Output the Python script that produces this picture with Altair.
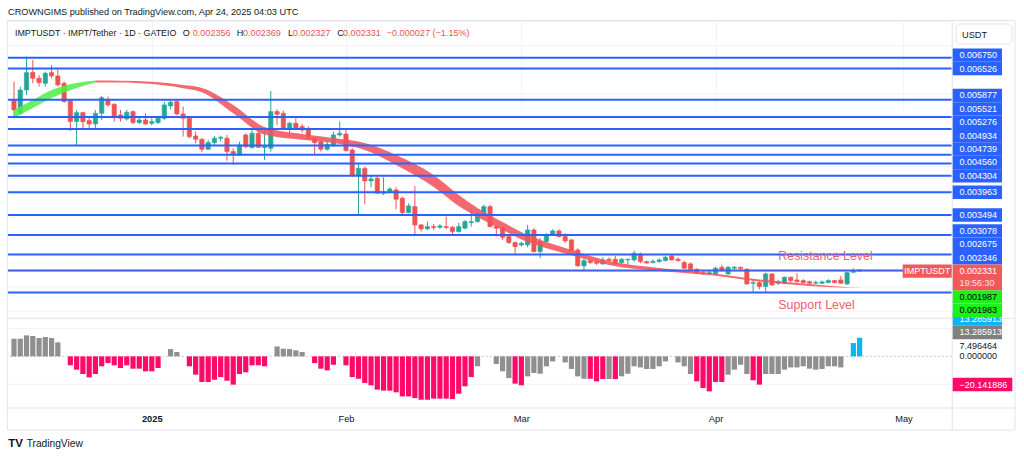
import altair as alt
import pandas as pd

# ---------------------------------------------------------------------------
# IMPT/USDT daily candles on GATEIO, 10 Dec 2024 .. 24 Apr 2025
# prices are in millionths of a USDT
# ---------------------------------------------------------------------------
FIRST_DAY = "2024-12-10"

opens = [
    5875, 5599, 6082, 6441, 6324, 6220, 6441, 6372, 6220, 5861,
    5427, 5613, 5447, 5378, 5599, 5889, 5785, 5565, 5482, 5634,
    5406, 5461, 5392, 5406, 5496, 5751, 5841, 5585, 5496, 5130,
    5061, 4854, 4992, 5082, 5082, 4806, 4737, 5151, 4888, 5185,
    4888, 4875, 5634, 5599, 5268, 5392, 5323, 5289, 5082, 5013,
    4854, 4923, 5151, 5171, 4840, 4302, 4460, 4198, 4254, 3943,
    3978, 4012, 3840, 3543, 3667, 3288, 3205, 3253, 3239, 3253,
    3239, 3150, 3219, 3336, 3357, 3495, 3667, 3253, 3219, 3046,
    2922, 2873, 2873, 3184, 2736, 2942, 3081, 3163, 3046, 2977,
    2770, 2439, 2549, 2529, 2480, 2577, 2577, 2508, 2563, 2563,
    2687, 2529, 2508, 2529, 2549, 2646, 2577, 2508, 2480, 2370,
    2301, 2273, 2273, 2411, 2273, 2391, 2411, 2370, 2080, 2094,
    2011, 2273, 2080, 2080, 2204, 2149, 2135, 2114, 2080, 2080,
    2094, 2135, 2149, 2066, 2308, 2356,
]
highs = [
    6255, 6151, 6772, 6703, 6393, 6462, 6600, 6496, 6255, 5875,
    5668, 5634, 5530, 5668, 5958, 5944, 5806, 5668, 5668, 5654,
    5530, 5599, 5496, 5530, 5841, 5861, 5875, 5737, 5496, 5220,
    5082, 5047, 5130, 5137, 5151, 4875, 5013, 5185, 5289, 5254,
    5254, 6061, 5682, 5654, 5427, 5496, 5378, 5323, 5116, 5033,
    5013, 5220, 5427, 5254, 4875, 4564, 4495, 4323, 4323, 4274,
    4067, 4067, 3874, 3736, 4095, 3308, 3357, 3308, 3308, 3460,
    3267, 3336, 3391, 3633, 3564, 3702, 3702, 3267, 3253, 3081,
    2942, 2942, 3288, 3219, 3012, 3115, 3198, 3198, 3115, 2991,
    2804, 2598, 2577, 2577, 2618, 2618, 2646, 2598, 2591, 2756,
    2715, 2549, 2577, 2598, 2646, 2666, 2618, 2549, 2508, 2391,
    2342, 2342, 2425, 2460, 2439, 2439, 2425, 2391, 2163, 2135,
    2301, 2287, 2149, 2218, 2218, 2287, 2163, 2135, 2135, 2135,
    2163, 2149, 2232, 2321, 2391, 2369,
]
lows = [
    5496, 5565, 5979, 6220, 6151, 6151, 6324, 6151, 5820, 5233,
    4923, 5289, 5289, 5289, 5461, 5737, 5427, 5427, 5447, 5378,
    5378, 5364, 5351, 5378, 5461, 5682, 5558, 5116, 5082, 4978,
    4792, 4840, 4944, 5013, 4619, 4530, 4716, 4875, 4875, 4875,
    4633, 4806, 5358, 5254, 5116, 5254, 5199, 5061, 4757, 4806,
    4826, 4909, 5116, 4806, 4288, 3495, 3722, 4067, 3929, 3909,
    3943, 3612, 3495, 3529, 3081, 3150, 3184, 3184, 3205, 3205,
    3060, 3129, 3198, 3253, 3336, 3474, 3239, 3046, 2977, 2894,
    2666, 2839, 2825, 2715, 2598, 2922, 3060, 3025, 2922, 2736,
    2425, 2342, 2480, 2460, 2460, 2529, 2460, 2480, 2460, 2529,
    2494, 2480, 2494, 2508, 2529, 2549, 2529, 2370, 2356, 2266,
    2252, 2246, 2252, 2321, 2252, 2356, 2356, 2045, 1887, 1956,
    1907, 2025, 2045, 2059, 2094, 2080, 2066, 2066, 2066, 2066,
    2080, 2080, 2066, 2045, 2287, 2327,
]
closes = [
    5668, 6082, 6441, 6324, 6234, 6427, 6372, 6186, 5841, 5427,
    5613, 5427, 5378, 5599, 5923, 5772, 5509, 5496, 5620, 5406,
    5461, 5378, 5427, 5496, 5772, 5827, 5585, 5496, 5116, 5061,
    4854, 4992, 5082, 5102, 4806, 4737, 4944, 4909, 5185, 4895,
    4909, 5634, 5578, 5289, 5392, 5289, 5254, 5082, 4992, 4854,
    4957, 5151, 5185, 4826, 4302, 4460, 4198, 4240, 3943, 3978,
    4033, 3819, 3543, 3681, 3288, 3205, 3253, 3232, 3267, 3232,
    3150, 3253, 3357, 3357, 3529, 3667, 3253, 3219, 3032, 2922,
    2839, 2908, 3184, 2736, 2942, 3081, 3163, 3046, 2956, 2749,
    2439, 2549, 2508, 2494, 2563, 2549, 2480, 2577, 2577, 2701,
    2529, 2501, 2535, 2563, 2618, 2563, 2549, 2391, 2370, 2287,
    2273, 2301, 2391, 2342, 2411, 2411, 2384, 2066, 2094, 2011,
    2273, 2045, 2114, 2204, 2135, 2114, 2094, 2080, 2094, 2107,
    2135, 2094, 2080, 2301, 2342, 2331,
]

# moving-average ribbon, sampled on candle numbers (1 = first day)
band_day = [1, 4, 7, 11, 14, 18, 23, 28, 31, 36, 41, 47, 52, 57, 62,
            68, 72, 75, 79, 83, 87, 91, 96, 104, 112, 120, 128, 134, 136]
band_hi = [5667, 5874, 6081, 6226, 6278, 6274, 6253, 6185, 6123, 5771,
           5315, 5170, 5087, 4984, 4736, 4321, 3907, 3638, 3348, 3079,
           2893, 2727, 2541, 2396, 2292, 2158, 2064, 1995, 1987]
band_lo = [5501, 5708, 5916, 6123, 6234, 6238, 6205, 6118, 6035, 5600,
           5160, 5050, 4984, 4839, 4528, 4073, 3680, 3452, 3183, 2934,
           2768, 2624, 2458, 2334, 2251, 2116, 2023, 1985, 1983]
band_trend = ["up"] * 4 + ["down"] * 23 + ["up"] * 2

# horizontal levels drawn on the chart
levels = [6750, 6526, 5877, 5521, 5276, 4934, 4739, 4560, 4304,
          3963, 3494, 3078, 2675, 2346]
support_line = 1887
ma_last = [1987, 1983]

# lower pane: momentum histogram and the tone of every bar
hist = [
    12.6, 12.6, 15.0, 14.5, 13.1, 13.8, 13.1, 10.0, 0,
    -6.4, -9.5, -12.6, -15.0, -12.6, -7.1, -4.8, -6.4, -8.3, -6.4,
    -8.8, -8.8, -10.7, -10.7, -8.3,
    0, 5.2, 3.1, 0,
    -7.1, -13.1, -18.3, -18.3, -16.7, -14.8, -17.4, -20.2, -12.6, -11.4,
    -6.4, -6.4, -7.1,
    0, 7.1, 5.5, 5.2, 4.3, 3.1, 0,
    -4.8, -8.8, -10.0, -6.0,
    0,
    -6.4, -14.8, -16.0, -19.0, -20.7, -23.8, -24.5, -24.5, -25.7, -28.6,
    -28.6, -29.8, -31.0, -31.0, -30.2, -30.2, -30.2, -30.5, -26.7, -21.4,
    -14.8,
    -7.1, 0, 0, -5.5, -10.7, -15.5,
    -19.5, -20.7,
    -14.3, -11.9, -12.4, -7.1, -3.6, 0, -4.3, -9.0, -14.3, -16.0,
    -16.0, -17.9, -16.2,
    -16.2,
    -16.2,
    -14.3, -12.4, -7.1, -7.9, -9.0, -9.0, -7.1, -3.6, 0, -4.3, -7.1, -12.6,
    -17.9, -22.6, -25.0, -18.3, -18.3,
    -13.1, -9.5, -6.0, -12.6,
    -17.1, -20.2,
    -12.6, -12.6, -12.6, -9.5, -7.9, -7.9, -7.1, -8.8, -9.5, -9.0, -7.1,
    -7.1, -7.9, 0,
    9.5, 13.285913,
]
hist_tone_runs = [("g", 9), ("p", 15), ("g", 4), ("p", 13), ("g", 7), ("p", 4),
                  ("g", 1), ("p", 21), ("g", 6), ("p", 2), ("g", 10), ("p", 3),
                  ("g", 1), ("p", 1), ("g", 12), ("p", 5), ("g", 4), ("p", 2),
                  ("g", 14), ("b", 2)]
signal_value = 13.285913
other_value = 7.496464
lower_value = -20.141886

# ---------------------------------------------------------------------------
# styling and geometry
# ---------------------------------------------------------------------------
FONT = "Liberation Sans"
INK = "#131722"
UP, DOWN = "#26a69a", "#ef5350"
LEVEL_BLUE = "#2962ff"
BORDER = "#e0e3eb"
GRID = "#f0f3fa"
RIBBON = {"up": "#52ee4a", "down": "#f2545c"}
HIST_COL = {"g": "#8f8f8f", "p": "#ff0a68", "b": "#0ab4f5"}
LABEL_RED = "#f05a5a"
TEXT_RED = "#f0606c"

W, H = 943.5, 388.0          # plot area (both panes)
PRICE_H = 298.3              # the price pane occupies the top of it
PRICE_DOMAIN = [0.0013542, 0.0075306]
HIST_DOMAIN = [-36.9, 27.2]
PX_PER_DAY = 6.331
ROW = 13.4                   # height of one price-scale label

day0 = pd.Timestamp(FIRST_DAY, tz="UTC")
days = pd.date_range(day0, periods=len(opens), freq="D")


def ms(ts):
    return int(ts.value // 10**6)


t_ms = [ms(d) for d in days]
t_left = day0 - pd.Timedelta(days=1.0 / PX_PER_DAY)
t_right = t_left + pd.Timedelta(days=W / PX_PER_DAY)

x_axis = alt.Axis(
    values=[alt.DateTime(year=2025, month=m, date=1, utc=True) for m in (1, 2, 3, 4, 5)],
    labelExpr="utcmonth(datum.value) == 0 ? utcFormat(datum.value, '%Y') : utcFormat(datum.value, '%b')",
    labelFontWeight={"condition": {"test": "utcmonth(datum.value) == 0", "value": "bold"}, "value": "normal"},
    grid=True, gridColor=GRID, domain=False, ticks=False, tickSize=0,
    labelPadding=10.7, labelBaseline="middle", labelFontSize=9.3,
    labelFont=FONT, labelColor=INK,
)
x_scale = alt.Scale(type="utc", domain=[ms(t_left), ms(t_right)])


def X(field="t"):
    return alt.X(f"{field}:T", scale=x_scale, axis=x_axis, title=None)


def YP(field):
    return alt.Y(field, type="quantitative", axis=None, title=None,
                 scale=alt.Scale(domain=PRICE_DOMAIN, range=[PRICE_H, 0], zero=False, nice=False))


def YH(field):
    return alt.Y(field, type="quantitative", axis=None, title=None,
                 scale=alt.Scale(domain=HIST_DOMAIN, range=[H, PRICE_H], zero=False, nice=False))


one = pd.DataFrame({"k": [0]})


def hline(y, x0, x1, color=BORDER):
    return alt.Chart(one).mark_rule(color=color, strokeWidth=1).encode(
        x=alt.value(x0), x2=alt.value(x1), y=alt.value(y))


def vline(x, y0, y1, color=BORDER):
    return alt.Chart(one).mark_rule(color=color, strokeWidth=1).encode(
        x=alt.value(x), y=alt.value(y0), y2=alt.value(y1))


def text_at(s, x, y, size=9.2, color=INK, align="left", weight="normal"):
    return alt.Chart(one).mark_text(
        text=s, x=x, y=y, fontSize=size, color=color, align=align,
        baseline="middle", fontWeight=weight, font=FONT)


# ---------------------------------------------------------------------------
# tables
# ---------------------------------------------------------------------------
candles = pd.DataFrame({
    "t": t_ms,
    "o": [v / 1e6 for v in opens],
    "h": [v / 1e6 for v in highs],
    "l": [v / 1e6 for v in lows],
    "c": [v / 1e6 for v in closes],
})
candles["col"] = [UP if c >= o else DOWN for o, c in zip(opens, closes)]

tones = [k for k, n in hist_tone_runs for _ in range(n)]
hist_df = pd.DataFrame({"t": t_ms, "v": hist, "base": 0.0,
                        "col": [HIST_COL[k] for k in tones]})

# ribbon split into same-trend segments, sharing the sample where it flips
ribbon_rows, seg = [], 0
for k, d in enumerate(band_day):
    row = {"t": t_ms[d - 1], "hi": band_hi[k] / 1e6, "lo": band_lo[k] / 1e6}
    if k > 0 and band_trend[k] != band_trend[k - 1]:
        ribbon_rows.append({**row, "seg": seg, "col": RIBBON[band_trend[k - 1]]})
        seg += 1
    ribbon_rows.append({**row, "seg": seg, "col": RIBBON[band_trend[k]]})
ribbon = pd.DataFrame(ribbon_rows)

level_df = pd.DataFrame({"v": [v / 1e6 for v in levels + [support_line]]})
last_close = closes[-1] / 1e6
last_df = pd.DataFrame({"v": [last_close]})

price_grid = pd.DataFrame({"v": [0.0015, 0.002, 0.0025, 0.003, 0.0035, 0.004,
                                 0.0045, 0.005, 0.0055, 0.006, 0.0065, 0.007, 0.0075]})
hist_grid = pd.DataFrame({"v": [-20.0, 20.0]})
hist_zero = pd.DataFrame({"v": [0.0]})

# price-scale labels: stacked so that they never overlap
hp = ROW * (PRICE_DOMAIN[1] - PRICE_DOMAIN[0]) / PRICE_H
countdown_c = last_close - 0.92 * hp


def fmt(v):
    return f"{v:.6f}".replace("-", "\u2212")


plabels = []
limit = last_close + hp
for v in sorted(levels):
    pos = max(v / 1e6, limit)
    plabels.append({"c": pos, "text": fmt(v / 1e6), "fill": LEVEL_BLUE, "ink": "white"})
    limit = pos + hp
limit = countdown_c - hp
for v in sorted(ma_last, reverse=True):
    pos = min(v / 1e6, limit)
    plabels.append({"c": pos, "text": fmt(v / 1e6), "fill": "#1ef01e", "ink": "#000000"})
    limit = pos - hp
plabels = pd.DataFrame(plabels)
plabels["top"] = plabels["c"] + hp / 2
plabels["bot"] = plabels["c"] - hp / 2

live_box = pd.DataFrame({"top": [last_close + hp / 2], "bot": [countdown_c - hp / 2]})
live_text = pd.DataFrame({"c": [last_close, countdown_c],
                          "text": [fmt(last_close), "19:56:30"],
                          "ink": ["white", "#ffe2e2"]})
tag_box = pd.DataFrame({"top": [last_close + hp / 2], "bot": [last_close - hp / 2]})
tag_text = pd.DataFrame({"c": [last_close], "text": ["IMPTUSDT"]})

hh = ROW * (HIST_DOMAIN[1] - HIST_DOMAIN[0]) / (H - PRICE_H)
grey_c = max(signal_value, other_value + hh)
cyan_c = grey_c + hh
hboxes = pd.DataFrame({
    "c": [cyan_c, grey_c],
    "text": [fmt(hist[-1]), fmt(signal_value)],
    "fill": [HIST_COL["b"], "#808080"],
})
hboxes["top"] = hboxes["c"] + hh / 2
hboxes["bot"] = hboxes["c"] - hh / 2
hlow = pd.DataFrame({"c": [lower_value], "text": [fmt(lower_value)],
                     "top": [lower_value + hh / 2], "bot": [lower_value - hh / 2]})
hplain = pd.DataFrame({"c": [other_value, 0.0], "text": [fmt(other_value), fmt(0.0)]})

# ---------------------------------------------------------------------------
# layers
# ---------------------------------------------------------------------------
LBL_X0, LBL_X1, LBL_TX = 944.7, 994.0, 951.5
RIGHT = 1007.0

layers = [
    alt.Chart(price_grid).mark_rule(color=GRID, strokeWidth=1).encode(y=YP("v:Q")),
    alt.Chart(hist_grid).mark_rule(color=GRID, strokeWidth=1).encode(y=YH("v:Q")),
    alt.Chart(hist_zero).mark_rule(color="#9598a1", strokeWidth=1, strokeDash=[1, 3]).encode(y=YH("v:Q")),
    # frame and pane separators
    hline(0.5, -0.7, RIGHT), hline(410, -0.7, RIGHT),
    hline(PRICE_H, 0, RIGHT), hline(H, -0.7, RIGHT),
    vline(-0.7, 0.5, 410), vline(RIGHT, 0.5, 410), vline(944.2, 0.5, 410),
    # momentum histogram
    alt.Chart(hist_df).mark_bar(size=5.2).encode(
        x=X(), y=YH("v:Q"), y2=alt.Y2("base:Q"), color=alt.Color("col:N", scale=None)),
    # candles
    alt.Chart(candles).mark_rule(strokeWidth=1).encode(
        x=X(), y=YP("l:Q"), y2=alt.Y2("h:Q"), color=alt.Color("col:N", scale=None)),
    alt.Chart(candles).mark_bar(size=4.3, strokeWidth=0.6).encode(
        x=X(), y=YP("o:Q"), y2=alt.Y2("c:Q"),
        color=alt.Color("col:N", scale=None), stroke=alt.Stroke("col:N", scale=None)),
    # moving-average ribbon
    alt.Chart(ribbon).mark_area(interpolate="monotone", opacity=0.88).encode(
        x=X(), y=YP("hi:Q"), y2=alt.Y2("lo:Q"),
        color=alt.Color("col:N", scale=None), detail="seg:N"),
    # horizontal levels and live price
    alt.Chart(level_df).mark_rule(color=LEVEL_BLUE, strokeWidth=2).encode(y=YP("v:Q")),
    alt.Chart(last_df).mark_rule(color=DOWN, strokeWidth=1, strokeDash=[1, 2]).encode(y=YP("v:Q")),
    # lower-pane labels (drawn first so the price labels sit over them)
    alt.Chart(hboxes).mark_rect().encode(
        x=alt.value(LBL_X0), x2=alt.value(LBL_X1), y=YH("top:Q"), y2=alt.Y2("bot:Q"),
        color=alt.Color("fill:N", scale=None)),
    alt.Chart(hboxes).mark_text(align="left", baseline="middle", fontSize=9, font=FONT, color="white").encode(
        x=alt.value(LBL_TX), y=YH("c:Q"), text="text:N"),
    alt.Chart(hlow).mark_rect(color="#ff0a68").encode(
        x=alt.value(LBL_X0), x2=alt.value(1004.3), y=YH("top:Q"), y2=alt.Y2("bot:Q")),
    alt.Chart(hlow).mark_text(align="left", baseline="middle", fontSize=9, font=FONT, color="white").encode(
        x=alt.value(LBL_TX), y=YH("c:Q"), text="text:N"),
    alt.Chart(hplain).mark_text(align="left", baseline="middle", fontSize=9, font=FONT, color=INK).encode(
        x=alt.value(LBL_TX), y=YH("c:Q"), text="text:N"),
    # price-scale labels
    alt.Chart(plabels).mark_rect().encode(
        x=alt.value(LBL_X0), x2=alt.value(LBL_X1), y=YP("top:Q"), y2=alt.Y2("bot:Q"),
        color=alt.Color("fill:N", scale=None)),
    alt.Chart(plabels).mark_text(align="left", baseline="middle", fontSize=9, font=FONT).encode(
        x=alt.value(LBL_TX), y=YP("c:Q"), text="text:N", color=alt.Color("ink:N", scale=None)),
    alt.Chart(live_box).mark_rect(color=LABEL_RED).encode(
        x=alt.value(LBL_X0), x2=alt.value(LBL_X1), y=YP("top:Q"), y2=alt.Y2("bot:Q")),
    alt.Chart(live_text).mark_text(align="left", baseline="middle", fontSize=9, font=FONT).encode(
        x=alt.value(LBL_TX), y=YP("c:Q"), text="text:N", color=alt.Color("ink:N", scale=None)),
    alt.Chart(tag_box).mark_rect(color=LABEL_RED).encode(
        x=alt.value(894.7), x2=alt.value(943.7), y=YP("top:Q"), y2=alt.Y2("bot:Q")),
    alt.Chart(tag_text).mark_text(align="center", baseline="middle", fontSize=9, font=FONT, color="white").encode(
        x=alt.value(919.2), y=YP("c:Q"), text="text:N"),
    # currency box of the price scale
    alt.Chart(one).mark_rect(fill="white", stroke=BORDER, cornerRadius=4).encode(
        x=alt.value(948), x2=alt.value(1004), y=alt.value(4), y2=alt.value(24)),
    text_at("USDT", 954, 14.5),
    # chart annotations
    text_at("Resistance Level", 770.3, 236.2, size=12.4, color=TEXT_RED),
    text_at("Support Level", 770.3, 284.8, size=12.4, color=TEXT_RED),
    # header lines
    text_at("CROWNGIMS published on TradingView.com, Apr 24, 2025 04:03 UTC", 0, -8, size=9.2),
    text_at("IMPTUSDT \u00b7 IMPT/Tether \u00b7 1D \u00b7 GATEIO", 7, 13.3, size=8.9),
    text_at("O", 174.7, 13.3, size=9.1),
    text_at(fmt(opens[-1] / 1e6), 184.7, 13.3, size=9.1, color=DOWN),
    text_at("H", 228.7, 13.3, size=9.1),
    text_at(fmt(highs[-1] / 1e6), 235.0, 13.3, size=9.1, color=DOWN),
    text_at("L", 280.0, 13.3, size=9.1),
    text_at(fmt(lows[-1] / 1e6), 284.7, 13.3, size=9.1, color=DOWN),
    text_at("C", 329.3, 13.3, size=9.1),
    text_at(fmt(closes[-1] / 1e6), 335.0, 13.3, size=9.1, color=DOWN),
    text_at("\u22120.000027 (\u22121.15%)", 378.7, 13.3, size=9.1, color=DOWN),
    # footer logo
    text_at("TV", 0.3, 424, size=11.5, weight=900),
    text_at("TradingView", 18.7, 424, size=10.2),
]

chart = (
    alt.layer(*layers)
    .resolve_scale(y="independent")
    .properties(
        width=W, height=H, background="white",
        autosize=alt.AutoSizeParams(type="none"),
        padding={"left": 8, "top": 20, "right": 1024 - 8 - W, "bottom": 458 - 20 - H},
    )
    .configure_view(strokeWidth=0)
)

chart.save("out.html", embed_options={"renderer": "svg", "actions": False})
